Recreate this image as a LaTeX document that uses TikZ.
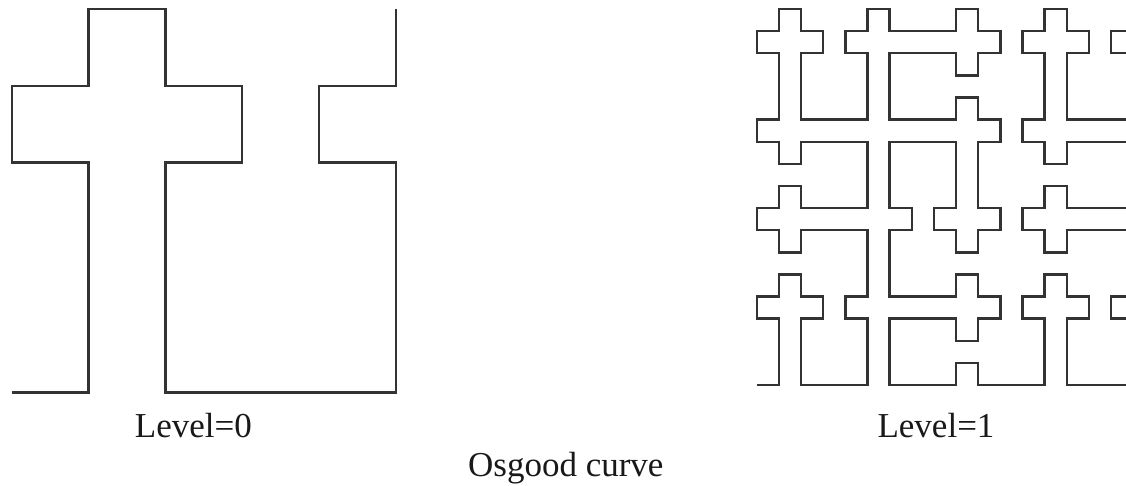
\documentclass[tikz,border=0pt]{standalone}
\usepackage{fontspec}
\setmainfont{Liberation Serif}
\begin{document}
\begin{tikzpicture}[x=1pt,y=-1pt,
  curve/.style={draw=black!80,line width=2.4pt,line join=miter},
  lbl/.style={font=\fontsize{35}{40}\selectfont,text=black!90,inner sep=0pt,anchor=base}]
\useasboundingbox[fill=white] (0,0) rectangle (1126,486);
% Level 0
\begin{scope}[shift={(11.7,9.3)},x=76.8pt,y=-76.67pt]
\draw[curve] (0,5)--(1,5)--(1,2)--(0,2)--(0,1)--(1,1)--(1,0)--(2,0)--(2,1)--(3,1)--(3,2)--(2,2)--(2,5)--(5,5)--(5,2)--(4,2)--(4,1)--(5,1)--(5,0);
\end{scope}
% Level 1
\begin{scope}
\clip (0,0) rectangle (1126,486);
\begin{scope}[shift={(756.7,9)},x=22.15pt,y=-22.12pt]
\draw[curve] (0,17)--(1,17)--(1,14)--(0,14)--(0,13)--(1,13)--(1,12)--(2,12)--(2,13)--(3,13)--(3,14)--(2,14)--(2,17)--(5,17)--(5,14)--(4,14)--(4,13)--(5,13)--(5,10)--(2,10)--(2,11)--(1,11)--(1,10)--(0,10)--(0,9)--(1,9)--(1,8)--(2,8)--(2,9)--(5,9)--(5,6)--(2,6)--(2,7)--(1,7)--(1,6)--(0,6)--(0,5)--(1,5)--(1,2)--(0,2)--(0,1)--(1,1)--(1,0)--(2,0)--(2,1)--(3,1)--(3,2)--(2,2)--(2,5)--(5,5)--(5,2)--(4,2)--(4,1)--(5,1)--(5,0)--(6,0)--(6,1)--(9,1)--(9,0)--(10,0)--(10,1)--(11,1)--(11,2)--(10,2)--(10,3)--(9,3)--(9,2)--(6,2)--(6,5)--(9,5)--(9,4)--(10,4)--(10,5)--(11,5)--(11,6)--(10,6)--(10,9)--(11,9)--(11,10)--(10,10)--(10,11)--(9,11)--(9,10)--(8,10)--(8,9)--(9,9)--(9,6)--(6,6)--(6,9)--(7,9)--(7,10)--(6,10)--(6,13)--(9,13)--(9,12)--(10,12)--(10,13)--(11,13)--(11,14)--(10,14)--(10,15)--(9,15)--(9,14)--(6,14)--(6,17)--(9,17)--(9,16)--(10,16)--(10,17)--(13,17)--(13,14)--(12,14)--(12,13)--(13,13)--(13,12)--(14,12)--(14,13)--(15,13)--(15,14)--(14,14)--(14,17)--(17,17)--(17,14)--(16,14)--(16,13)--(17,13)--(17,10)--(14,10)--(14,11)--(13,11)--(13,10)--(12,10)--(12,9)--(13,9)--(13,8)--(14,8)--(14,9)--(17,9)--(17,6)--(14,6)--(14,7)--(13,7)--(13,6)--(12,6)--(12,5)--(13,5)--(13,2)--(12,2)--(12,1)--(13,1)--(13,0)--(14,0)--(14,1)--(15,1)--(15,2)--(14,2)--(14,5)--(17,5)--(17,2)--(16,2)--(16,1)--(17,1)--(17,0);
\end{scope}
\end{scope}
% Labels
\node[lbl] (l0) at (193.4,437.3) {Level=0};
\node[lbl] (l1) at (936,437.3) {Level=1};
\node[lbl] (title) at (565.8,476.7) {Osgood curve};
\end{tikzpicture}
\end{document}
